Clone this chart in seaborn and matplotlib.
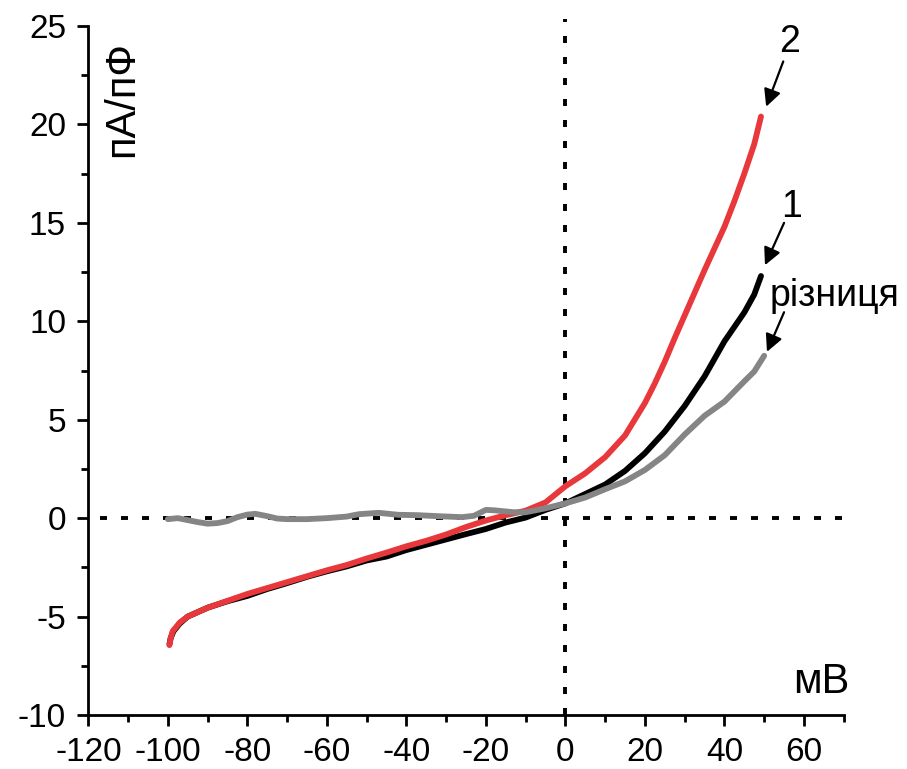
import numpy as np
import pandas as pd
import matplotlib
matplotlib.use("Agg")
import matplotlib.pyplot as plt
from matplotlib.ticker import MultipleLocator
import seaborn as sns

# =========================
# Data, mV vs pA/pF
# =========================
v_black = [-99.6, -99.3, -98.6, -97, -95, -90, -85, -80, -75, -70, -65, -60, -55, -50,
           -45, -40, -35, -30, -25, -20, -15, -10, -5, 0, 5, 10, 15, 20, 25, 30, 35,
           40, 45, 47.5, 49.2]
i_black = [-6.4, -6.1, -5.75, -5.35, -5.0, -4.55, -4.22, -3.95, -3.6, -3.3, -2.98, -2.7,
           -2.45, -2.15, -1.95, -1.62, -1.35, -1.08, -0.81, -0.55, -0.22, 0.03, 0.42,
           0.75, 1.23, 1.71, 2.4, 3.3, 4.4, 5.7, 7.2, 8.98, 10.45, 11.36, 12.3]

v_red = [-99.6, -99.3, -98.8, -97, -95, -90, -85, -80, -75, -70, -65, -60, -55, -50,
         -45, -40, -35, -30, -25, -20, -15, -10, -5, 0, 5, 10, 15, 20, 22.5, 25, 27.5,
         30, 32.5, 35, 37.5, 40, 42.5, 45, 47.5, 49.2]
i_red = [-6.45, -6.1, -5.75, -5.3, -5.0, -4.55, -4.2, -3.85, -3.55, -3.25, -2.95, -2.65,
         -2.38, -2.05, -1.75, -1.43, -1.15, -0.83, -0.45, -0.12, 0.15, 0.38, 0.8, 1.62,
         2.28, 3.1, 4.2, 5.85, 6.85, 7.95, 9.15, 10.3, 11.45, 12.6, 13.7, 14.8, 16.1,
         17.5, 19.0, 20.4]

v_diff = [-100, -97.5, -95, -92.5, -90, -87.5, -85, -82.5, -80, -78, -75, -72.5, -70,
          -65, -60, -55, -52, -47, -42, -37, -32, -26, -23, -20, -18, -13, -10, -5, 0,
          5, 10, 15, 20, 25, 30, 35, 40, 45, 47.5, 50]
i_diff = [-0.05, 0.0, -0.1, -0.2, -0.28, -0.25, -0.15, 0.05, 0.18, 0.22, 0.1, -0.02,
          -0.05, -0.05, 0.0, 0.08, 0.2, 0.27, 0.17, 0.15, 0.1, 0.05, 0.12, 0.42, 0.4,
          0.3, 0.3, 0.5, 0.75, 1.05, 1.47, 1.87, 2.45, 3.2, 4.25, 5.2, 5.92, 6.95, 7.45,
          8.25]

x_ticks = [-120, -100, -80, -60, -40, -20, 0, 20, 40, 60]
y_ticks = [-10, -5, 0, 5, 10, 15, 20, 25]

# =========================
# Style
# =========================
sns.set_theme(style="ticks")
plt.rcParams["font.family"] = ["Liberation Sans", "DejaVu Sans"]
plt.rcParams["axes.unicode_minus"] = False
plt.rcParams["text.color"] = "black"

fig = plt.figure(figsize=(9.07, 7.69), dpi=100)
ax = fig.add_axes([0.0974, 0.0702, 0.8328, 0.896])

# zero reference lines
ax.axhline(0, xmin=0.015, xmax=1, color="black", lw=2.8, ls=(0, (1.8, 3.6)), zorder=1)
ax.axvline(0, ymin=0, ymax=1.01, color="black", lw=2.8, ls=(0, (1.8, 3.6)), zorder=1,
           clip_on=False)

df_black = pd.DataFrame({"mV": v_black, "pApF": i_black})
df_red = pd.DataFrame({"mV": v_red, "pApF": i_red})
df_diff = pd.DataFrame({"mV": v_diff, "pApF": i_diff})

sns.lineplot(data=df_black, x="mV", y="pApF", color="black", lw=4.2, ax=ax, zorder=3)
sns.lineplot(data=df_red, x="mV", y="pApF", color="#e8383b", lw=4.2, ax=ax, zorder=4)
sns.lineplot(data=df_diff, x="mV", y="pApF", color="#858585", lw=4.2, ax=ax, zorder=5)

ax.set_xlim(-120, 70)
ax.set_ylim(-10, 25)
ax.set_xticks(x_ticks)
ax.set_yticks(y_ticks)
ax.xaxis.set_minor_locator(MultipleLocator(10))
ax.yaxis.set_minor_locator(MultipleLocator(2.5))
ax.tick_params(which="major", direction="out", length=8, width=2, labelsize=24,
               pad=8, colors="black")
ax.tick_params(which="minor", direction="out", length=5, width=2, colors="black")
ax.set_xlabel("")
ax.set_ylabel("")
sns.despine(ax=ax)
for s in ["left", "bottom"]:
    ax.spines[s].set_linewidth(2)
    ax.spines[s].set_color("black")

# axis captions inside the plot
ax.text(-111.5, 21.3, "пА/пФ", rotation=90, ha="center", va="center", fontsize=30,
        color="black")
ax.text(64.3, -8.3, "мВ", ha="center", va="center", fontsize=30, color="black")

# curve labels with arrows
arrow_kw = dict(arrowstyle="-|>", lw=1.6, color="black", mutation_scale=26,
                shrinkA=0, shrinkB=0)
ax.annotate("", xy=(50.5, 20.9), xytext=(54.8, 23.2), arrowprops=arrow_kw,
            annotation_clip=False)
ax.text(56.5, 24.2, "2", ha="center", va="center", fontsize=27, clip_on=False,
        color="black")
ax.annotate("", xy=(50.2, 12.85), xytext=(55.0, 15.0), arrowprops=arrow_kw,
            annotation_clip=False)
ax.text(57.0, 15.8, "1", ha="center", va="center", fontsize=27, clip_on=False,
        color="black")
ax.annotate("", xy=(50.7, 8.45), xytext=(55.0, 10.46), arrowprops=arrow_kw,
            annotation_clip=False)
ax.text(51.3, 11.3, "різниця", ha="left", va="center", fontsize=27, clip_on=False,
        color="black")

fig.savefig("out.png", dpi=100)
